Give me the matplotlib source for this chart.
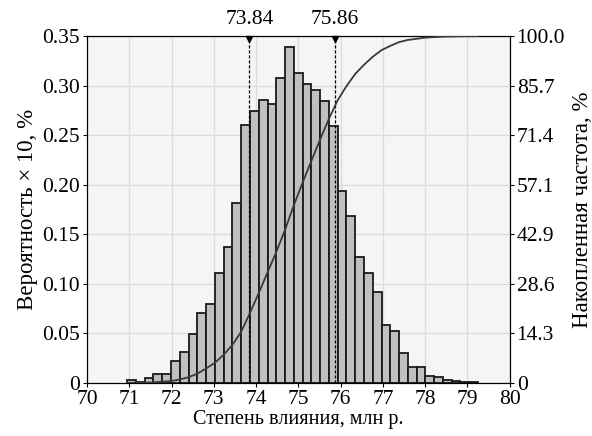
import numpy as np
import matplotlib.pyplot as plt

plt.rcParams['font.family'] = ['Liberation Serif', 'DejaVu Serif']

# histogram: density (probability x 10, %) per bin
bin_start = 70.95
bin_width = 0.2075
density = [0.003, 0.001, 0.005, 0.009, 0.009, 0.022, 0.031, 0.049, 0.071, 0.080,
           0.111, 0.137, 0.182, 0.260, 0.275, 0.286, 0.282, 0.308, 0.339, 0.313,
           0.302, 0.296, 0.285, 0.259, 0.194, 0.169, 0.127, 0.111, 0.092, 0.059,
           0.052, 0.030, 0.016, 0.016, 0.007, 0.006, 0.003, 0.002, 0.001, 0.001]
# marked quantiles (20% and 80%)
marks = [73.84, 75.86]
left_ticks = [0, 0.05, 0.10, 0.15, 0.20, 0.25, 0.30, 0.35]
left_labels = ['0', '0.05', '0.10', '0.15', '0.20', '0.25', '0.30', '0.35']
right_labels = ['0', '14.3', '28.6', '42.9', '57.1', '71.4', '85.7', '100.0']
x_ticks = list(range(70, 81))

dens = np.array(density)
edges = bin_start + bin_width * np.arange(len(dens) + 1)
# cumulative frequency, %
cum = np.concatenate([[0], np.cumsum(dens * bin_width)])
cum = cum / cum[-1] * 100

fig = plt.figure(figsize=(5.92, 4.36), dpi=100)
ax = fig.add_axes([0.147, 0.1216, 0.714, 0.7954])
ax.set_facecolor('#f5f5f5')
ax.set_axisbelow(True)
ax.grid(True, color='#dcdcdc', lw=1)

ax.bar(edges[:-1], dens, width=bin_width, align='edge', color='#c0c0c0',
       edgecolor='#1a1a1a', lw=1.3, zorder=2)

ax.set_xlim(70, 80)
ax.set_ylim(0, 0.35)
ax.set_xticks(x_ticks)
ax.set_yticks(left_ticks)
ax.set_yticklabels(left_labels)
ax.tick_params(labelsize=15.5, length=3, pad=2)
ax.set_xlabel('Степень влияния, млн р.', fontsize=14.5, labelpad=1)
ax.set_ylabel('Вероятность × 10, %', fontsize=16.5, labelpad=3)

for m in marks:
    ax.plot([m, m], [0, 0.35], ls=(0, (2.5, 1.5)), color='black', lw=0.9, zorder=3)
    ax.plot([m], [0.3475], marker='v', color='black', ms=4, zorder=4, clip_on=False)
    ax.text(m, 0.357, f'{m:.2f}', ha='center', va='bottom', fontsize=15.5)

ax2 = ax.twinx()
ax2.plot(edges, cum, color='#3a3a3a', lw=1.3, zorder=5)
ax2.set_ylim(0, 100)
ax2.set_yticks(np.linspace(0, 100, 8))
ax2.set_yticklabels(right_labels)
ax2.tick_params(labelsize=15.5, length=3, pad=2)
ax2.set_ylabel('Накопленная частота, %', fontsize=16.5, labelpad=5)

plt.savefig('out.png', dpi=100)
